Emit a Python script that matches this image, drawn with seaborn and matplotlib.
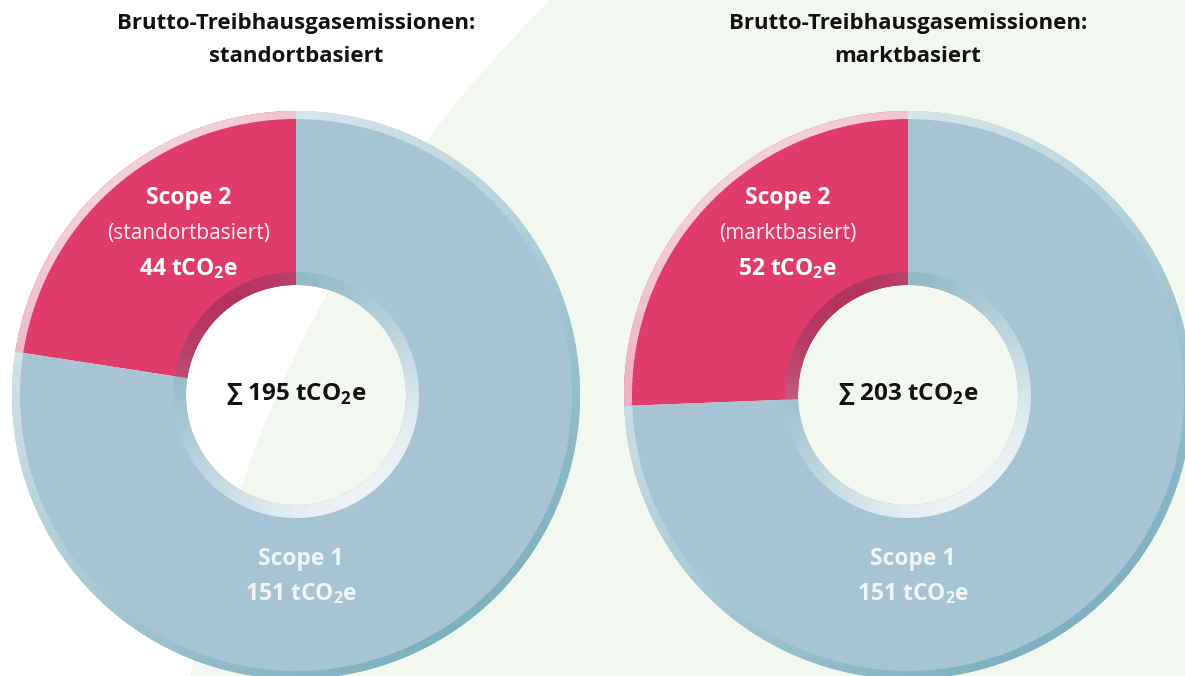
import numpy as np
import matplotlib
matplotlib.use("Agg")
import matplotlib.pyplot as plt
from matplotlib.patches import Wedge, Circle
from matplotlib.colors import to_rgb
import seaborn as sns

# data
titles = ["Brutto-Treibhausgasemissionen:\nstandortbasiert",
          "Brutto-Treibhausgasemissionen:\nmarktbasiert"]
scope_names = ["Scope 1", "Scope 2"]
scope2_notes = ["(standortbasiert)", "(marktbasiert)"]
scope1_values = [151, 151]
scope2_values = [44, 52]
unit = r"tCO$_\mathbf{2}$e"

sns.set_theme(style="white")
plt.rcParams["font.family"] = ["Open Sans", "DejaVu Sans"]
plt.rcParams["mathtext.fontset"] = "custom"
plt.rcParams["mathtext.rm"] = "Open Sans"
plt.rcParams["mathtext.bf"] = "Open Sans:bold"

W, H = 1185, 676
fig = plt.figure(figsize=(W / 100, H / 100), dpi=100)
ax = fig.add_axes([0, 0, 1, 1])

# big light-green background disc
ax.add_patch(Circle((1440, -232), 1271, color="#f2f7ef", zorder=0, lw=0))

face = sns.color_palette(["#a7c4d4", "#df3c6c"])
rim_dark = ["#7fb0bf", "#d0416b"]
ring_dark = ["#87b2c1", "#b3335f"]

centers = [(296, 281), (908, 281)]
R, R_rim, R_ring, R_in = 284, 276, 123, 110
# x offset of the Scope 2 label block from the donut centre
label_dx = [-107, -120]


def mix(c, t):
    c = np.array(to_rgb(c))
    return tuple(c + (1 - c) * t)


def light(ang):
    return (1 + np.cos(np.radians(ang - 125))) / 2


def shaded_band(cx, cy, r_out, width, a1, a2, dark, kind):
    angs = np.arange(a1, a2, 1.0)
    for a in angs:
        b = min(a + 1.3, a2)
        t = light(a + 0.5)
        f = 0.75 * t if kind == "outer" else 0.85 * (1 - t)
        ax.add_patch(Wedge((cx, cy), r_out, a, b, width=width,
                           color=mix(dark, f), lw=0, zorder=3))


for i, (cx, cy) in enumerate(centers):
    vals = [scope2_values[i], scope1_values[i]]
    cols = [face[1], face[0]]
    wedges, _ = ax.pie(vals, colors=cols, startangle=90, counterclock=True,
                       radius=R, center=(cx, cy),
                       wedgeprops=dict(width=R - R_in, lw=0))
    for w in wedges:
        w.set_zorder(2)
    # bevel bands
    for w, k in zip(wedges, [1, 0]):
        shaded_band(cx, cy, R, R - R_rim, w.theta1, w.theta2, rim_dark[k], "outer")
        shaded_band(cx, cy, R_ring, R_ring - R_in, w.theta1, w.theta2, ring_dark[k], "inner")

    total = scope1_values[i] + scope2_values[i]
    t1, t2 = titles[i].split("\n")
    ax.text(cx, H - 23, t1, ha="center", va="center", fontsize=16,
            fontweight="bold", color="#111111", zorder=5)
    ax.text(cx, H - 57, t2, ha="center", va="center", fontsize=16,
            fontweight="bold", color="#111111", zorder=5)
    ax.text(cx, H - 394, "\u2211 " + f"{total} " + unit, ha="center", va="center",
            fontsize=17.5, fontweight="bold", color="#111111", zorder=5)

    sx = cx + label_dx[i]
    ax.text(sx, H - 198, scope_names[1], ha="center", va="center", fontsize=16.5,
            fontweight="bold", color="white", zorder=5)
    ax.text(sx, H - 233, scope2_notes[i], ha="center", va="center", fontsize=15,
            fontweight="normal", color="#fbeef2", zorder=5)
    ax.text(sx, H - 269, f"{scope2_values[i]} " + unit, ha="center", va="center",
            fontsize=16.5, fontweight="bold", color="white", zorder=5)

    ax.text(cx + 5, H - 559, scope_names[0], ha="center", va="center", fontsize=16.5,
            fontweight="bold", color="#f0f5f8", zorder=5)
    ax.text(cx + 5, H - 594, f"{scope1_values[i]} " + unit, ha="center", va="center",
            fontsize=16.5, fontweight="bold", color="#f0f5f8", zorder=5)

ax.set_xlim(0, W)
ax.set_ylim(0, H)
ax.set_aspect("equal")
ax.axis("off")

fig.savefig("out.png", dpi=100, facecolor="white")
